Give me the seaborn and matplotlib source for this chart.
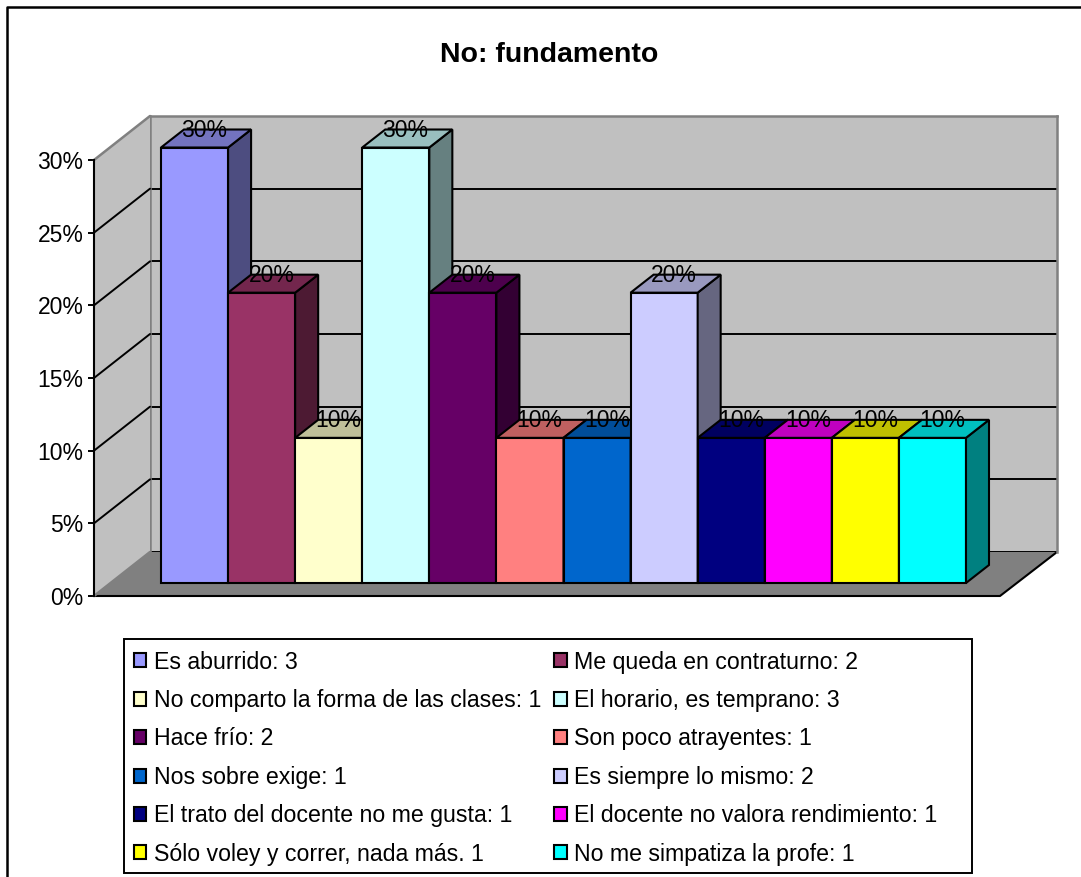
import matplotlib
matplotlib.use('Agg')
import matplotlib.pyplot as plt
from matplotlib.colors import to_rgb
from matplotlib.patches import Polygon, Rectangle
import seaborn as sns

# Data
categories = ['Es aburrido', 'Me queda en contraturno', 'No comparto la forma de las clases',
              'El horario, es temprano', 'Hace frío', 'Son poco atrayentes',
              'Nos sobre exige', 'Es siempre lo mismo', 'El trato del docente no me gusta',
              'El docente no valora rendimiento', 'Sólo voley y correr, nada más.', 'No me simpatiza la profe']
percents = [30, 20, 10, 30, 20, 10, 10, 20, 10, 10, 10, 10]
legend_labels = ['Es aburrido: 3', 'Me queda en contraturno: 2', 'No comparto la forma de las clases: 1',
                 'El horario, es temprano: 3', 'Hace frío: 2', 'Son poco atrayentes: 1',
                 'Nos sobre exige: 1', 'Es siempre lo mismo: 2', 'El trato del docente no me gusta: 1',
                 'El docente no valora rendimiento: 1', 'Sólo voley y correr, nada más. 1', 'No me simpatiza la profe: 1']
colors = ['#9999FF', '#993366', '#FFFFCC', '#CCFFFF', '#660066', '#FF8080',
          '#0066CC', '#CCCCFF', '#000080', '#FF00FF', '#FFFF00', '#00FFFF']
y_ticks = [0, 5, 10, 15, 20, 25, 30]

W, H = 1081, 877

sns.set_theme(style='white')
plt.rcParams['font.family'] = ['Liberation Sans', 'DejaVu Sans']
plt.rcParams['font.size'] = 15


def add_axes_px(fig, x0, y0, x1, y1, z):
    # pixel box (y going down) to a matplotlib axes
    return fig.add_axes([x0 / W, 1 - y1 / H, (x1 - x0) / W, (y1 - y0) / H], zorder=z)


def shade(color, k):
    return tuple(c * k for c in to_rgb(color))


fig = plt.figure(figsize=(W / 100, H / 100), dpi=100, facecolor='white')

# Whole-figure layer: outer border, floor and legend box
bg = add_axes_px(fig, 0, 0, W, H, 0)
bg.set_xlim(0, W)
bg.set_ylim(H, 0)
bg.axis('off')
bg.plot([7, 7, W], [H, 7, 7], color='black', lw=1.8)
bg.add_patch(Polygon([(94, 596), (150, 552), (1057, 552), (1000, 596)], closed=True,
                     facecolor='#808080', edgecolor='none'))
bg.plot([94, 1000, 1057], [596, 596, 552], color='black', lw=1.5)
bg.add_patch(Rectangle((124, 639), 848, 234, facecolor='white', edgecolor='black', lw=1.4))

# Back wall
wall = add_axes_px(fig, 150, 116, 1057, 552, 1)
wall.set_facecolor('#C0C0C0')
wall.set_ylim(0, 30)
wall.set_xticks([])
wall.set_yticks(y_ticks)
wall.set_yticklabels([])
wall.tick_params(left=False)
wall.grid(True, axis='y', color='black', lw=1.4)
for side in ['left', 'top', 'right']:
    wall.spines[side].set_color('#808080')
    wall.spines[side].set_linewidth(1.8)
wall.spines['bottom'].set_visible(False)

# Left wall with the value axis on its front edge
front = add_axes_px(fig, 94, 160, 150, 596, 2)
front.patch.set_alpha(0)
front.set_xlim(0, 1)
front.set_ylim(0, 30)
rise = 44 / (436 / 30)
front.add_patch(Polygon([(0, 0), (1, rise), (1, 30 + rise), (0, 30)], closed=True,
                        facecolor='#C0C0C0', edgecolor='none', clip_on=False))
for v in y_ticks:
    if v == 0 or v == 30:
        front.plot([0, 1], [v, v + rise], color='#808080', lw=1.8, clip_on=False)
    else:
        front.plot([0, 1], [v, v + rise], color='black', lw=1.4, clip_on=False)
front.set_xticks([])
front.set_yticks(y_ticks)
front.set_yticklabels([f'{v}%' for v in y_ticks], fontsize=16.5, color='black')
front.tick_params(axis='y', left=True, length=4, width=1.4, color='black', pad=3.5)
for side in ['right', 'top', 'bottom']:
    front.spines[side].set_visible(False)
front.spines['left'].set_color('black')
front.spines['left'].set_linewidth(1.5)

# Bars
ax = add_axes_px(fig, 161, 147.5, 966, 583, 3)
ax.patch.set_alpha(0)
sns.barplot(x=categories, y=percents, hue=categories, palette=colors, dodge=False, saturation=1,
            width=1, edgecolor='black', linewidth=1.5, legend=False, ax=ax)
ax.set_xlim(-0.5, 11.5)
ax.set_ylim(0, 30)
ax.axis('off')

depth_x = 23 / (805 / 12)
depth_y = 18 / (435.5 / 30)
bars = list(ax.patches)[:len(categories)]
for i, bar in enumerate(bars):
    x0 = bar.get_x()
    x1 = x0 + bar.get_width()
    top = bar.get_height()
    bar.set_zorder(3 + i)
    bar.set_clip_on(False)
    ax.add_patch(Polygon([(x1, 0), (x1 + depth_x, depth_y), (x1 + depth_x, top + depth_y), (x1, top)],
                         closed=True, facecolor=shade(colors[i], 0.5), edgecolor='black',
                         lw=1.5, zorder=3 + i, clip_on=False))
    ax.add_patch(Polygon([(x0, top), (x0 + depth_x, top + depth_y), (x1 + depth_x, top + depth_y), (x1, top)],
                         closed=True, facecolor=shade(colors[i], 0.75), edgecolor='black',
                         lw=1.5, zorder=3 + i, clip_on=False))
    ax.annotate(f'{percents[i]}%', (x0 + bar.get_width() / 2, top), xytext=(7, 12.5),
                textcoords='offset points', ha='center', va='center', fontsize=16.5,
                color='black', zorder=50, annotation_clip=False)

# Legend (filled by column, so left column first)
order = list(range(0, 12, 2)) + list(range(1, 12, 2))
leg = ax.legend([bars[i] for i in order], [legend_labels[i] for i in order], ncol=2,
                loc='upper left', bbox_to_anchor=(124 / W, 1 - 641 / H), bbox_transform=fig.transFigure,
                frameon=False, labelcolor='black',
                fontsize=16.7, handlelength=0.56, handleheight=0.56, handletextpad=0.31,
                labelspacing=0.665, columnspacing=0.56, borderpad=0.41, borderaxespad=0)
leg.set_zorder(60)

fig.text(549 / W, 1 - 55.5 / H, 'No: fundamento', ha='center', va='center',
         fontsize=20.5, fontweight='bold', color='black')

fig.savefig('out.png', dpi=100)
